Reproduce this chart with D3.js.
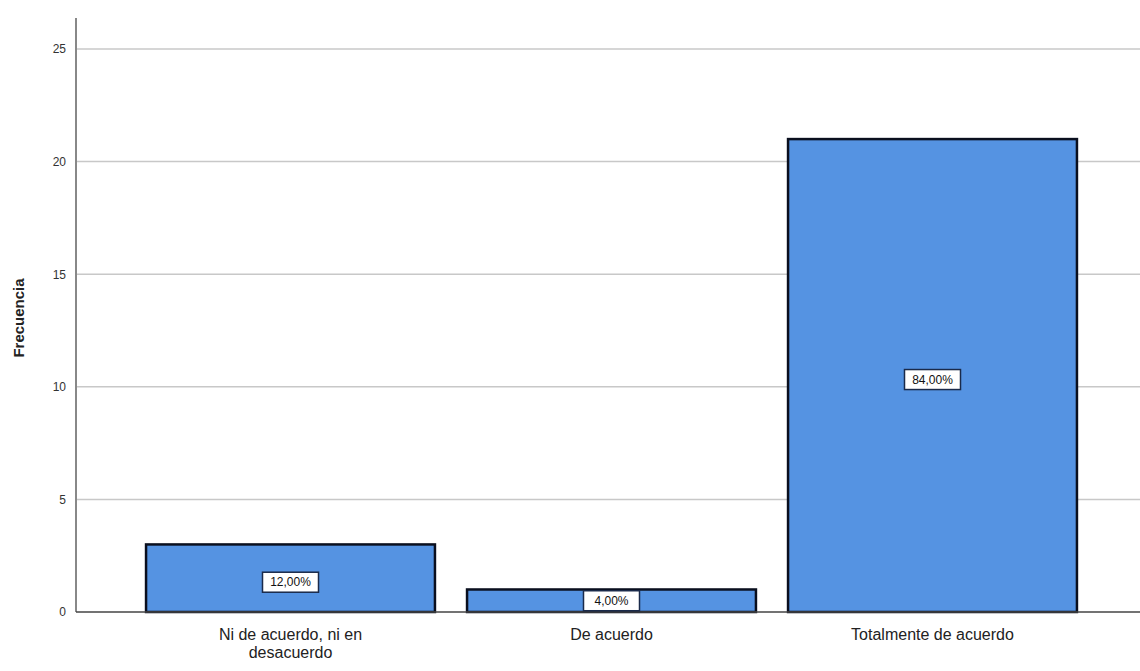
<!DOCTYPE html>
<html>
<head>
<meta charset="utf-8">
<script src="https://cdn.jsdelivr.net/npm/d3@7"></script>
<style>
  html, body { margin: 0; padding: 0; background: #fff; }
  svg text { font-family: Arial, "Liberation Sans", sans-serif; }
</style>
</head>
<body>
<svg id="chart" width="1140" height="671"></svg>
<script>
// Frequency bar chart with percentage labels
const categories = [["Ni de acuerdo, ni en", "desacuerdo"], ["De acuerdo"], ["Totalmente de acuerdo"]];
const frecuencias = [3, 1, 21];
const porcentajes = ["12,00%", "4,00%", "84,00%"];
const yTicks = [0, 5, 10, 15, 20, 25];

const svg = d3.select("#chart");
const axisX = 76, baseY = 612;

const y = d3.scaleLinear().domain([0, 25]).range([baseY, 49]);
const x = d3.scaleBand().domain(d3.range(categories.length)).range([130, 1093]).paddingInner(0.1).paddingOuter(0.05);

// gridlines
svg.append("g").selectAll("line").data(yTicks.filter(t => t > 0)).join("line")
  .attr("x1", axisX).attr("x2", 1140)
  .attr("y1", d => y(d)).attr("y2", d => y(d))
  .attr("stroke", "#c8c8c8").attr("stroke-width", 1.5);

// y axis
const yAxis = d3.axisLeft(y).tickValues(yTicks).tickSize(0).tickPadding(10);
const gy = svg.append("g").attr("transform", `translate(${axisX},0)`).call(yAxis);
gy.select(".domain").remove();
gy.selectAll("text").attr("font-size", 12).attr("fill", "#333");
svg.append("line").attr("x1", axisX).attr("x2", axisX).attr("y1", 18).attr("y2", baseY)
  .attr("stroke", "#888").attr("stroke-width", 2);

// bars
svg.append("g").selectAll("rect").data(frecuencias).join("rect")
  .attr("x", (d, i) => x(i))
  .attr("y", d => y(d))
  .attr("width", x.bandwidth())
  .attr("height", d => y(0) - y(d))
  .attr("fill", "#5593e2")
  .attr("stroke", "#0a0f1e")
  .attr("stroke-width", 2.5);

// baseline
svg.append("line").attr("x1", axisX).attr("x2", 1140).attr("y1", baseY).attr("y2", baseY)
  .attr("stroke", "#444").attr("stroke-width", 1.5);

// percentage labels
const lab = svg.append("g").selectAll("g").data(frecuencias).join("g")
  .attr("transform", (d, i) => `translate(${x(i) + x.bandwidth() / 2},${(y(d) + y(0)) / 2 + (d < 2 ? 0 : 4)})`);
lab.append("rect")
  .attr("x", -28).attr("y", -10).attr("width", 56).attr("height", 20)
  .attr("fill", "#fff").attr("stroke", "#1a2a4a").attr("stroke-width", 1.5);
lab.append("text")
  .attr("text-anchor", "middle").attr("dy", "0.35em")
  .attr("font-size", 12).attr("fill", "#111")
  .text((d, i) => porcentajes[i]);

// category labels
const cat = svg.append("g").selectAll("text").data(categories).join("text")
  .attr("x", (d, i) => x(i) + x.bandwidth() / 2)
  .attr("y", 640)
  .attr("text-anchor", "middle")
  .attr("font-size", 16)
  .attr("fill", "#222");
cat.selectAll("tspan").data(d => d).join("tspan")
  .attr("x", function () { return this.parentNode.getAttribute("x"); })
  .attr("dy", (d, i) => i === 0 ? 0 : 18)
  .text(d => d);

// y axis title
svg.append("text")
  .attr("transform", "translate(24,318) rotate(-90)")
  .attr("text-anchor", "middle")
  .attr("font-size", 15).attr("font-weight", "bold").attr("fill", "#222")
  .text("Frecuencia");
</script>
</body>
</html>
